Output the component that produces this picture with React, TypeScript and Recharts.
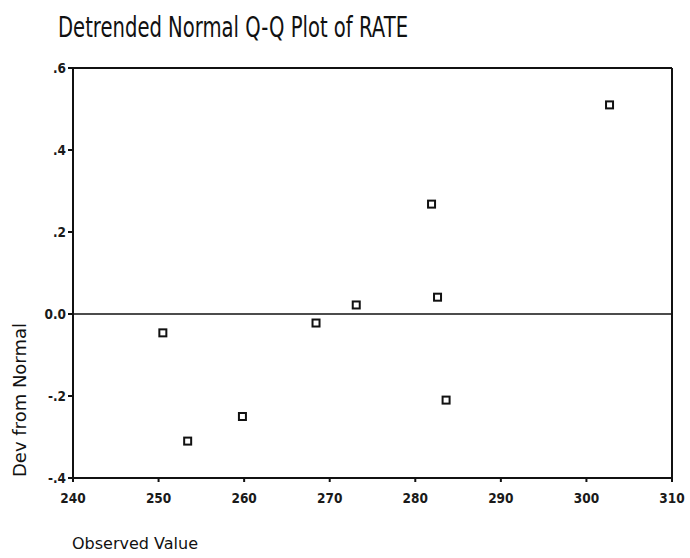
import { ReferenceLine, Scatter, ScatterChart, XAxis, YAxis } from 'recharts';

const observed = [250.5, 253.4, 259.8, 268.4, 273.1, 281.9, 282.6, 283.6, 302.7];
const deviation = [-0.046, -0.31, -0.25, -0.022, 0.022, 0.268, 0.041, -0.21, 0.51];
const xTicks = [240, 250, 260, 270, 280, 290, 300, 310];
const yTicks = [-0.4, -0.2, 0, 0.2, 0.4, 0.6];

const points = observed.map((x, i) => ({ x, y: deviation[i] }));

const fmtY = (v: number) => (v === 0 ? '0.0' : v.toFixed(1).replace('0.', '.'));

const tickFont = { fontFamily: 'DejaVu Sans Condensed', fontSize: 13.5, fontWeight: 600, fill: '#1a1a1a' };

const HollowSquare = (props: any) => (
  <rect
    x={props.cx - 3.5}
    y={props.cy - 3.5}
    width={7}
    height={7}
    fill="#fff"
    stroke="#111"
    strokeWidth={2}
  />
);

export default function App() {
  return (
    <div style={{ position: 'absolute', left: 0, top: 0, width: 690, height: 558, background: '#fff' }}>
      <div
        style={{
          position: 'absolute',
          left: 58,
          top: 12,
          fontFamily: '"DejaVu Sans", sans-serif',
          fontSize: 28,
          lineHeight: '32px',
          color: '#111',
          whiteSpace: 'nowrap',
          transform: 'scaleX(0.7)',
          transformOrigin: 'left center',
        }}
      >
        Detrended Normal Q-Q Plot of RATE
      </div>
      <div
        style={{
          position: 'absolute',
          left: 19,
          top: 400,
          transform: 'translate(-50%, -50%) rotate(-90deg)',
          fontFamily: '"DejaVu Sans", sans-serif',
          fontSize: 18,
          color: '#111',
          whiteSpace: 'nowrap',
        }}
      >
        Dev from Normal
      </div>
      <div
        style={{
          position: 'absolute',
          left: 72,
          top: 534,
          fontFamily: '"DejaVu Sans", sans-serif',
          fontSize: 16,
          color: '#111',
          whiteSpace: 'nowrap',
        }}
      >
        Observed Value
      </div>
      <ScatterChart width={690} height={558} margin={{ top: 68, right: 18, bottom: 50, left: 23 }}>
        <XAxis
          type="number"
          dataKey="x"
          domain={[240, 310]}
          ticks={xTicks}
          height={30}
          tickSize={4}
          tickMargin={11}
          tick={tickFont}
          stroke="#111"
          strokeWidth={2}
          allowDataOverflow
        />
        <YAxis
          type="number"
          dataKey="y"
          domain={[-0.4, 0.6]}
          ticks={yTicks}
          width={50}
          tickSize={5}
          tickMargin={2}
          tick={tickFont}
          tickFormatter={fmtY}
          stroke="#111"
          strokeWidth={2}
          allowDataOverflow
        />
        <ReferenceLine y={0.6} stroke="#111" strokeWidth={2} />
        <ReferenceLine x={310} stroke="#111" strokeWidth={2} />
        <ReferenceLine y={0} stroke="#111" strokeWidth={1.5} />
        <Scatter data={points} shape={HollowSquare} isAnimationActive={false} />
      </ScatterChart>
    </div>
  );
}
